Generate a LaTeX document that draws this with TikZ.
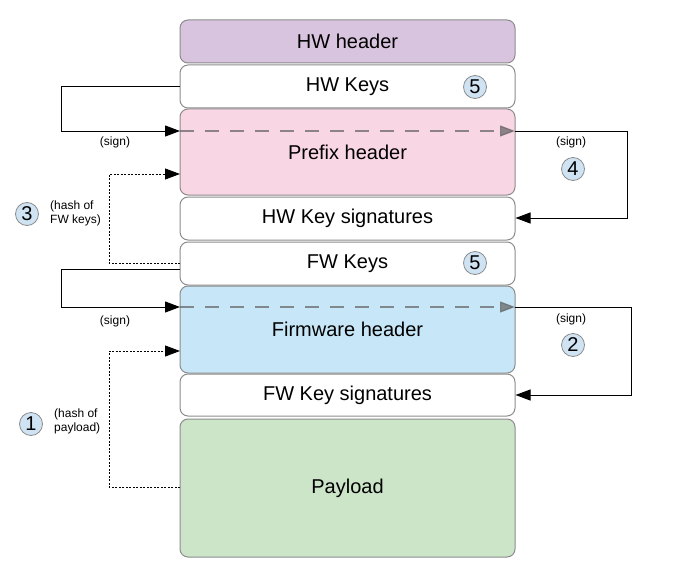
\documentclass[tikz,border=0pt]{standalone}
\usepackage{fontspec}
\setmainfont{Liberation Sans}
\usetikzlibrary{arrows.meta}
\definecolor{bordergray}{HTML}{8C8C8C}
\definecolor{hwhfill}{HTML}{D9C4DF}
\definecolor{pfxfill}{HTML}{F9D6E4}
\definecolor{fwhfill}{HTML}{C7E7F8}
\definecolor{payfill}{HTML}{CCE5C9}
\definecolor{numfill}{HTML}{CFE3F3}
\definecolor{dashgray}{HTML}{606060}
\tikzset{
  blk/.style={draw=bordergray, line width=1pt, rounded corners=8pt, minimum width=335pt, inner sep=0pt, font=\fontsize{20}{22}\selectfont, text=black},
  numc/.style={circle, draw=bordergray, fill=numfill, line width=0.8pt, minimum size=23pt, inner sep=0pt, font=\fontsize{20}{20}\selectfont},
  lbl/.style={font=\fontsize{12}{14}\selectfont, inner sep=0pt, align=left},
  solidarr/.style={draw=black, line width=1pt, -{Triangle[length=15pt,width=11pt]}},
  dotarr/.style={draw=black, line width=0.9pt, dash pattern=on 2pt off 1.5pt, -{Triangle[length=15pt,width=11pt]}},
  dasharr/.style={draw=dashgray, opacity=0.7, line width=1.2pt, dash pattern=on 14pt off 11pt, -{Triangle[length=15pt,width=11pt]}},
}
\begin{document}
\begin{tikzpicture}[x=1pt,y=-1pt]
\useasboundingbox (0,0) rectangle (679,567);
\node[blk, fill=hwhfill, minimum height=43pt] (hwh) at (347.5,41.5) {HW header};
\node[blk, fill=white, minimum height=43pt] (hwk) at (347.5,86.5) {HW Keys};
\node[blk, fill=pfxfill, minimum height=86pt] (pfx) at (347.5,152) {Prefix header};
\node[blk, fill=white, minimum height=43pt] (hks) at (347.5,218.5) {HW Key signatures};
\node[blk, fill=white, minimum height=43pt] (fwk) at (347.5,263.5) {FW Keys};
\node[blk, fill=fwhfill, minimum height=87pt] (fwh) at (347.5,329.5) {Firmware header};
\node[blk, fill=white, minimum height=42pt] (fks) at (347.5,395) {FW Key signatures};
\node[blk, fill=payfill, minimum height=138pt] (pay) at (347.5,488) {Payload};

\node[numc] (n5a) at (475,87) {5};
\node[numc] (n5b) at (475,263) {5};
\node[numc] (n4) at (573,169) {4};
\node[numc] (n2) at (573,345) {2};
\node[numc] (n3) at (27,214) {3};
\node[numc] (n1) at (31,424) {1};

% dashed arrows inside headers
\coordinate (pl) at (180,131);
\coordinate (pr) at (515,131);
\draw[dasharr] (pl) -- (pr);
\coordinate (fl) at (180,307);
\coordinate (fr) at (515,307);
\draw[dasharr] (fl) -- (fr);

% left sign arrow (HW keys -> prefix header)
\coordinate (a1) at (180,87);
\coordinate (a2) at (61,87);
\coordinate (a3) at (61,131);
\draw[solidarr] (a1) -- (a2) -- (a3) -- (pl);
\node[lbl] (sg1) at (115,142) {(sign)};

% left sign arrow (FW keys -> firmware header)
\coordinate (b1) at (180,269);
\coordinate (b2) at (61,269);
\coordinate (b3) at (61,307);
\draw[solidarr] (b1) -- (b2) -- (b3) -- (fl);
\node[lbl] (sg2) at (115,321) {(sign)};

% right sign arrow (prefix header -> HW key signatures)
\coordinate (c1) at (627,131);
\coordinate (c2) at (627,218);
\draw[solidarr] (pr) -- (c1) -- (c2) -- (c2 -| hks.east);
\node[lbl] (sg3) at (571,142) {(sign)};

% right sign arrow (firmware header -> FW key signatures)
\coordinate (d1) at (631,307);
\coordinate (d2) at (631,395);
\draw[solidarr] (fr) -- (d1) -- (d2) -- (d2 -| fks.east);
\node[lbl] (sg4) at (571,319) {(sign)};

% dotted hash arrow (FW keys -> prefix header)
\coordinate (e1) at (180,263);
\coordinate (e2) at (109,263);
\coordinate (e3) at (109,174);
\coordinate (e4) at (180,174);
\draw[dotarr] (e1) -- (e2) -- (e3) -- (e4);
\node[lbl, anchor=west] (h1) at (50,213) {(hash of\\FW keys)};

% dotted hash arrow (payload -> firmware header)
\coordinate (f1) at (180,487);
\coordinate (f2) at (109,487);
\coordinate (f3) at (109,351);
\coordinate (f4) at (180,351);
\draw[dotarr] (f1) -- (f2) -- (f3) -- (f4);
\node[lbl, anchor=west] (h2) at (54,421) {(hash of\\payload)};
\end{tikzpicture}
\end{document}
